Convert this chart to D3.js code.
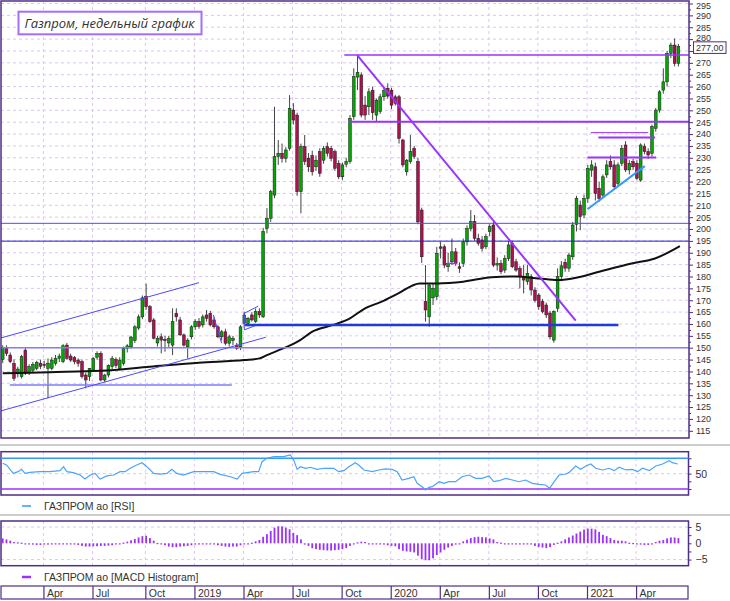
<!DOCTYPE html>
<html>
<head>
<meta charset="utf-8">
<script src="https://cdn.jsdelivr.net/npm/d3@7"></script>
<style>
body { margin: 0; background: #fff; }
svg { display: block; font-family: "Liberation Sans", Arial, sans-serif; }
</style>
</head>
<body>
<svg width="730" height="601"></svg>
<script>
// weekly bars, Jan 2018 - Jun 2021
var opens = [
145,149.7,146.9,143.4,139,137.8,149,139.5,140.5,141.3,
143.5,143,141.3,141.3,143.4,145.5,144.1,151.1,146.5,145.8,
144.8,144.1,138.5,137.8,140.6,146,147.6,136.4,138.5,142,
145,141.3,143.4,149.7,150.4,153,158.3,163,171.5,167.3,
161.7,152,154.6,153.5,152,151.1,164.5,161.7,155.4,150.4,
154.6,158.8,161,159.6,163.8,164.5,161.7,158.8,154.6,156.7,
151.9,153,151.1,150.4,160.3,160.3,163.8,161,165.2,163,
200.3,204.5,214.3,230.5,231.9,229.8,234,250.1,248,215.7,
234.7,229.8,231,226.2,232.6,229,234.7,234,232.6,227.7,
222,227.3,228.4,247.3,264,264.9,252.2,251.5,258.5,248,
249.4,255.7,259.3,258.5,255.7,255.7,237.5,224.1,228.4,234,
228.4,208,169.4,163,171,171.5,192.5,192.5,184.1,186.2,
190.4,184.1,185.5,194.6,200.3,203.1,196.1,195.4,192.5,198.9,
201.7,184.8,185.5,182.7,187.6,194,186.2,183.4,179.9,177.8,
179.9,174.3,172.2,169.4,168,164.6,153.2,166.6,180,186,
183.5,188.3,202,210.1,205.9,212.9,224.8,226.2,217.1,214.3,
222.8,228.4,227,219.2,227.7,235.4,224.9,228.4,227.7,220.6,
234.7,232.6,231.9,242.4,250.1,258.5,262,274,277.5,269.8];

var highs = [
151,151,148,145,142,147,150,143,144,144.5,
145,144.5,145.5,146,147,147.5,151.5,152,147.5,146.5,
145.5,145,139.5,141.5,146,148.5,148.5,139,143,146.5,
146,146,150.5,151.5,155,159.5,164,172,177,168,
162.5,155,156,155,155,166.6,166.6,163,156,154,
159.5,162,162.5,164,165.9,165.5,163,159.5,157.5,158,
155.5,155,152,159.5,165.2,163,165,166.5,166.6,200.5,
208.8,216.5,251.5,237.5,236,234.5,256.4,253,249,236,
239.6,232,233,231,234,235,236.5,235,233.5,229,
228,230,248,267.7,273.3,266,256,259.3,260,255,
257,259.5,261.4,259.5,256.5,256.5,238,229.5,239.6,235,
230,209,184.8,177,177,192.5,194.6,193.5,190,196,
192,186,196,201.5,208,205.9,198,197,198,202,
203,188,187,189,195,195,187.5,184.5,184.8,185,
181,175.5,173,170.5,169,165.5,165.8,183.4,186.5,187.5,
190,203,214,212,214.5,227,229,228,220,223,
229,231,229,228,235.4,237,229,229.5,229,236.1,
236,234,244,251,258.5,267.7,275,278.5,280.3,278];

var lows = [
143.5,146.5,143.5,136,137.5,137,138.5,138.5,139.5,140.5,
141,141.5,128.7,140.5,142.5,144,143.5,145,144,143,
142,137,132.9,136,140,145,135.8,135.5,137.5,141,
141.5,140.5,142.5,148,149.5,152,157.5,162,166,160.5,
153.5,150.5,147.6,148.3,150,146.9,161,155,150.5,145.5,
153.5,157.5,158,158.5,161,159,158,154,153,151,
150.5,151,149,149,159.5,159,161,160.5,162.5,162.5,
198.2,203,213,227,228,228,233,244,214,206.6,
227,224,222.5,224.5,222,227.5,230.5,228.5,224.5,221,
220.5,226,227.5,246,258.5,247,246,248,246,245.5,
248.5,254,255,250.5,252,236,226,222.5,227.5,229.5,
202,185.7,161,158.8,168,170,187.6,183.5,182,185,
184.5,181.5,184,193,199,195,193,190.5,191.5,197,
184,182.5,181,181.5,186.5,183.5,182,175,172.9,176.5,
172,169,166,164.5,162.5,153.5,152.1,165,178,182,
182,187,199,199.5,204.5,211,222,212,211.5,213,
221.5,225,216.5,218,226.5,224,223,225,220.5,219.9,
231.5,229.5,230.5,241,249,257,260,272,268.5,268.5];

var closes = [
150,147.6,144.1,137.1,141,146.2,139.2,142,143,143.8,
142.2,142.5,143.5,144.8,145.5,146.5,150.8,145.5,144.8,144.1,
143.4,137.8,136.4,141.3,145.5,147.6,136.4,138.5,142.5,145.5,
142.5,144.8,149.7,150.8,154.5,158.8,163,171,167.3,161,
154,154,153.2,153,154,161,163,155.4,151.1,153.2,
158.8,161,159,163,162.4,159.6,158.8,154.6,156.7,151.9,
154.6,154,149.7,158.8,163.8,162.4,161.7,165.2,163.8,199,
204.5,215.7,230.5,231.9,229.8,233.3,250.8,245.9,215.7,234.7,
228.4,226.2,224.1,229,223.5,234,231.9,229.8,225.6,222,
227,228.4,246.6,264.2,266,248,248,257.8,249,254.3,
255.7,258.3,256,252.2,253,238.2,227,229,232.6,230.5,
203,188.3,165.9,176.4,175,189.8,191.9,184.8,185.5,190.4,
185.5,183.4,194.6,200.3,203.1,196.1,194,191.9,196.8,201,
184.8,185.5,182,187.6,193.3,184.1,182.7,179.9,178.5,181.3,
174.3,170,167.3,165.2,163.8,154.6,165.2,180,184.5,183.5,
189,201.7,212.9,205.2,212.9,225.6,227,215,212.9,222,
227,226.2,217.8,227,234,224.9,227.7,226.2,221.4,235.4,
232.6,231.2,243.1,250.1,257.8,262,274,277.5,269.8,277];

// moving average at these bars
var maWeek = [0,12.5,26,39,52,64,68,70,74.3,78.8,81.9,87.6,92,96,100.4,104.8,110.5,115,122,129.5,136,142,147,152.5,158,166.6,172.8,179.4];
var maValue = [139.2,139.7,140.3,142,143.7,144.8,145.5,146.9,149.7,153.2,156.7,159.6,162.4,166.6,169.4,172.9,177.1,177.1,177.8,179.7,180,179.2,178.5,179.7,182,185.5,187.6,192.8];

var rsiWeek = [0,1,2.8,4.1,5,5.9,7.2,9.9,12.5,15.2,16.1,17,18.7,20.5,21.8,23.2,24.5,25.8,27.6,29.4,
31.1,32.4,33.8,35.5,36.9,38.2,40,41.7,43.5,44.8,46.1,47.9,49.2,50.6,52.3,54.1,55.9,57.6,60.3,62.1,
63.4,64.7,66.5,67.8,68.7,70,71.8,74.4,76.2,77.1,78,78.9,80.2,81.5,83.3,85.1,87.7,89,90.4,91.7,
93.4,94.3,95.7,97.9,99.6,101.4,103.2,104.5,105.8,107.6,108.9,109.8,111.1,112,112.9,113.8,115.6,116.9,118.2,120,
121.7,123.5,125.3,127,128.8,130.1,131.5,133.2,135,136.8,138.5,140.3,142.1,143.8,144.9,146.1,147.4,149.2,150,151.8,
153.1,154.5,155.8,157.1,158.9,160.6,162,163.3,165.1,166.8,168.2,169.5,171.3,173,174.8,176.6,177.4,178.8];
var rsiValue = [63.5,61.3,50.4,52.6,55.6,50.4,51.7,52.6,52.6,53.9,59.1,52.6,51.3,48.2,43,48.2,50.4,43,47,48.2,
52.6,52.6,57,61.3,64.3,59.1,50.4,49.5,50.4,55.6,50.4,48.2,50.4,52.6,52.6,52.6,52.6,49.1,46,43,
50.4,51.3,52.6,52.6,65.6,70,72.1,72.1,74.3,67.8,55.6,59.1,57,58.3,55.6,57,57,52.6,53.9,59.1,
64.3,61.3,54.8,52.6,54.8,56.1,55.6,52.6,41.7,43.9,46,37.4,33,28.7,32.2,33,39.5,37.4,39.5,39.5,
46,48.2,43.9,43.9,47,39.5,40.8,43.9,41.7,39.5,41.7,37.4,36.1,35.2,30.9,39.5,48.2,49.5,51.3,60,
55.6,60,62.6,57,54.8,57,53.9,58.3,54.8,55.6,52.6,57,53.9,60,62.6,66.9,64.3,62.6];
var rsiLevels = [70, 30];

var macdHist = [
1.5,1.2,0.8,0.4,0.3,0.2,-0.2,-0.3,-0.4,-0.5,
-0.5,-0.4,-0.4,-0.3,-0.2,-0.2,-0.1,-0.2,-0.3,-0.3,
-0.5,-0.8,-1.0,-1.0,-0.9,-0.9,-0.8,-0.8,-0.7,-0.6,
-0.3,-0.1,0.2,0.5,0.9,1.3,1.8,2.2,2.3,1.6,
0.8,0.1,-0.2,-0.6,-1.0,-1.2,-1.2,-1.0,-0.9,-0.8,
-0.6,-0.4,-0.3,-0.2,-0.2,-0.3,-0.3,-0.6,-0.8,-1.0,
-1.1,-1.0,-1.0,-0.6,-0.3,0.0,0.2,0.6,1.0,2.0,
2.8,3.8,4.8,5.2,5.2,4.8,4.3,3.2,2.5,1.2,
-0.4,-0.8,-1.5,-1.8,-2.0,-2.1,-2.2,-2.2,-2.1,-2.0,
-1.8,-1.5,-0.8,-0.3,0.3,0.5,0.4,-0.1,-0.2,-0.2,
-0.1,-0.4,-0.6,-0.8,-0.9,-1.8,-2.3,-2.5,-2.6,-2.8,
-3.8,-4.8,-5.2,-5.2,-4.6,-3.6,-2.8,-2.0,-1.3,-0.8,
-0.4,-0.1,0.6,1.1,1.6,1.9,2.0,1.9,1.8,1.5,
1.2,0.4,0.2,-0.1,-0.2,-0.2,-0.3,-0.2,-0.2,-0.3,
-0.3,-0.8,-1.1,-1.3,-1.5,-1.2,-0.5,0.2,0.6,1.2,
1.8,2.4,3.0,3.6,4.2,4.5,4.5,4.3,3.5,2.6,
2.2,1.6,1.0,0.8,0.8,0.6,0.2,0.1,-0.1,-0.4,
-0.5,-0.5,-0.3,0.4,0.8,1.0,1.5,1.8,1.8,1.6];

var quarterWeek = [11,24,38,51,64,77,90,103,116,129,142,155,168];
var quarterLabels = ["Apr","Jul","Oct","2019","Apr","Jul","Oct","2020","Apr","Jul","Oct","2021","Apr"];

// hand drawn lines: kind, bar1, price1, bar2, price2
var trendLines = [
    ["lightBlue", -1, 150, 183, 150],
    ["blue", -1, 202.4, 183, 202.4],
    ["darkBlue", -1, 194.9, 183, 194.9],
    ["lightBlue", 1.9, 134.3, 60.7, 134.3],
    ["blue", -0.7, 154, 52, 177.4],
    ["blue", -0.7, 123.3, 69.7, 154.4],
    ["blue", 55.8, 163.8, 58, 151.9],
    ["blue", 64, 164.5, 67.7, 167.5],
    ["blue", 64, 157.5, 67.7, 159.8],
    ["blue", 64, 157.5, 64, 164.5],
    ["thickBlue", 64.2, 159.6, 163.1, 159.6],
    ["violet", 90.5, 273.3, 183, 273.3],
    ["violetThick", 92, 245.2, 183, 245.2],
    ["violetThick", 93.9, 273.3, 151.8, 161.4],
    ["violet", 117.7, 185.5, 120.4, 185.5],
    ["violetThin", 155.8, 240.6, 171, 240.6],
    ["violetThick", 157.8, 238.5, 172.8, 238.5],
    ["violetThick", 154.9, 230.1, 173.1, 230.1],
    ["sky", 154.9, 208.3, 170.1, 226.5]
];

var lineStyle = {
    lightBlue: ["#7d7dff", 1.5],
    blue: ["#4a4aff", 1],
    darkBlue: ["#1c1cd8", 1],
    thickBlue: ["#1f3be0", 2.5],
    violet: ["#9933ff", 1.5],
    violetThin: ["#9933ff", 1],
    violetThick: ["#9933ff", 2],
    sky: ["#3399ff", 2]
};

var frameColor = "#4e2f86";
var gridColor = "#dcc6f5";
var textColor = "#333";
var upColor = "#00a800";
var downColor = "#b0104e";

var width = 730, height = 601;

var x = d3.scaleLinear().domain([0, 179]).range([2.7, 678.4]);
var y = d3.scaleLinear().domain([115, 295]).range([430.8, 3.5]);
var rsiY = d3.scaleLinear().domain([30, 70]).range([489, 458.3]);
var macdY = d3.scaleLinear().domain([-5, 5]).range([559.6, 527]);

var panels = [
    {top: 1, bottom: 438},
    {top: 451.7, bottom: 495},
    {top: 521, bottom: 565.7}
];

var svg = d3.select("svg");

svg.append("rect").attr("width", width).attr("height", height).attr("fill", "#fff");

svg.append("defs").append("clipPath").attr("id", "mainClip")
    .append("rect").attr("x", 1).attr("y", 1).attr("width", 688).attr("height", 437);

// gray separators
svg.selectAll(".sep")
    .data([445, 515])
    .enter().append("line")
        .attr("class", "sep")
        .attr("x1", 0).attr("x2", width)
        .attr("y1", function(d){ return d }).attr("y2", function(d){ return d })
        .attr("stroke", "#bdbdbd").attr("stroke-width", 1.5);

// vertical grid in every panel
panels.forEach(function(p){
    svg.append("g").selectAll("line")
        .data(quarterWeek)
        .enter().append("line")
            .attr("x1", function(d){ return x(d) - 0.8 })
            .attr("x2", function(d){ return x(d) - 0.8 })
            .attr("y1", p.top).attr("y2", p.bottom)
            .attr("stroke", gridColor).attr("stroke-dasharray", "3,3");
});

// horizontal grid, main panel
svg.append("g").selectAll("line")
    .data(d3.range(115, 296, 5))
    .enter().append("line")
        .attr("x1", 1).attr("x2", 689)
        .attr("y1", function(d){ return y(d) }).attr("y2", function(d){ return y(d) })
        .attr("stroke", gridColor).attr("stroke-dasharray", "3,3");

svg.append("g").selectAll("line")
    .data([50])
    .enter().append("line")
        .attr("x1", 1).attr("x2", 688.5)
        .attr("y1", function(d){ return rsiY(d) }).attr("y2", function(d){ return rsiY(d) })
        .attr("stroke", gridColor).attr("stroke-dasharray", "3,3");

svg.append("g").selectAll("line")
    .data([-5, 5])
    .enter().append("line")
        .attr("x1", 1).attr("x2", 688.5)
        .attr("y1", function(d){ return macdY(d) }).attr("y2", function(d){ return macdY(d) })
        .attr("stroke", gridColor).attr("stroke-dasharray", "3,3");

// candles
var candles = opens.map(function(o, i){
    return {i: i, o: o, h: highs[i], l: lows[i], c: closes[i]};
});

var plot = svg.append("g").attr("clip-path", "url(#mainClip)");

var candleG = plot.append("g").attr("class", "candles")
    .selectAll("g")
    .data(candles)
    .enter().append("g");

candleG.append("line")
    .attr("x1", function(d){ return x(d.i) })
    .attr("x2", function(d){ return x(d.i) })
    .attr("y1", function(d){ return y(d.h) })
    .attr("y2", function(d){ return y(d.l) })
    .attr("stroke", "#444").attr("stroke-width", 1);

candleG.append("rect")
    .attr("x", function(d){ return x(d.i) - 1.4 })
    .attr("width", 2.8)
    .attr("y", function(d){ return y(Math.max(d.o, d.c)) })
    .attr("height", function(d){ return Math.max(1, Math.abs(y(d.o) - y(d.c))) })
    .attr("fill", function(d){ return d.c >= d.o ? upColor : downColor })
    .attr("stroke", "#1a1a1a").attr("stroke-width", 0.5);

// moving average
plot.append("path")
    .datum(d3.zip(maWeek, maValue))
    .attr("fill", "none")
    .attr("stroke", "#111")
    .attr("stroke-width", 2)
    .attr("d", d3.line()
        .x(function(d){ return x(d[0]) })
        .y(function(d){ return y(d[1]) })
        .curve(d3.curveMonotoneX));

// drawings
plot.append("g").selectAll("line")
    .data(trendLines)
    .enter().append("line")
        .attr("x1", function(d){ return x(d[1]) })
        .attr("y1", function(d){ return y(d[2]) })
        .attr("x2", function(d){ return x(d[3]) })
        .attr("y2", function(d){ return y(d[4]) })
        .attr("stroke", function(d){ return lineStyle[d[0]][0] })
        .attr("stroke-width", function(d){ return lineStyle[d[0]][1] });

// panel frames
panels.forEach(function(p, k){
    svg.append("rect")
        .attr("x", 1).attr("y", p.top)
        .attr("width", k == 0 ? 688 : 687.5)
        .attr("height", p.bottom - p.top)
        .attr("fill", "none")
        .attr("stroke", frameColor).attr("stroke-width", 1.5);
});

var lastPrice = closes[closes.length - 1];

// price axis
var priceAxis = svg.append("g")
    .attr("transform", "translate(689,0)")
    .call(d3.axisRight(y).tickValues(d3.range(115, 296, 5)).tickSize(4).tickPadding(3));
priceAxis.select(".domain").remove();
// the label hidden under the price tag
priceAxis.selectAll(".tick text")
    .filter(function(d){ return Math.abs(y(d) - y(lastPrice)) < 6 })
    .remove();

var minorAxis = svg.append("g")
    .attr("transform", "translate(689,0)")
    .call(d3.axisRight(y).tickValues(d3.range(117.5, 295, 5)).tickSize(2).tickFormat(""));
minorAxis.select(".domain").remove();

var rsiAxis = svg.append("g")
    .attr("transform", "translate(688.5,0)")
    .call(d3.axisRight(rsiY).tickValues([30, 40, 50, 60, 70]).tickSize(3).tickPadding(4)
        .tickFormat(function(d){ return d == 50 ? "50" : "" }));
rsiAxis.select(".domain").remove();

var macdAxis = svg.append("g")
    .attr("transform", "translate(688.5,0)")
    .call(d3.axisRight(macdY).tickValues([-5, -2.5, 0, 2.5, 5]).tickSize(3).tickPadding(4)
        .tickFormat(function(d){ return d % 5 == 0 ? d3.format("d")(d) : "" }));
macdAxis.select(".domain").remove();

[priceAxis, minorAxis, rsiAxis, macdAxis].forEach(function(a){
    a.selectAll(".tick line").attr("stroke", frameColor);
    a.selectAll(".tick text")
        .attr("fill", textColor)
        .style("font-size", a === priceAxis ? "9px" : "10.5px")
        .style("font-family", "Liberation Sans, Arial, sans-serif");
});

// keep the top labels inside the page and clear of the price tag
var labelNudge = {295: 2, 290: 0.5, 280: -1.3};
priceAxis.selectAll(".tick text")
    .filter(function(d){ return labelNudge[d] !== undefined })
    .attr("y", function(d){ return labelNudge[d] });

// last price tag
var tag = svg.append("g").attr("transform", "translate(693.5," + y(lastPrice) + ")");
tag.append("rect")
    .attr("x", 0).attr("y", -4.4)
    .attr("width", 32.5).attr("height", 11.6)
    .attr("fill", "#fff")
    .attr("stroke", frameColor).attr("stroke-width", 1);
tag.append("text")
    .attr("x", 16.25).attr("y", 1.4).attr("dy", "0.32em")
    .attr("text-anchor", "middle")
    .attr("fill", textColor)
    .style("font-size", "9px")
    .text(d3.format(".2f")(lastPrice).replace(".", ","));

// RSI
svg.append("g").selectAll("line")
    .data(rsiLevels)
    .enter().append("line")
        .attr("x1", 1).attr("x2", 688.5)
        .attr("y1", function(d){ return rsiY(d) }).attr("y2", function(d){ return rsiY(d) })
        .attr("stroke", function(d, i){ return i == 0 ? "#3399ff" : "#9933ff" })
        .attr("stroke-width", 1.5);

svg.append("path")
    .datum(d3.zip(rsiWeek, rsiValue))
    .attr("fill", "none")
    .attr("stroke", "#4aa3ff")
    .attr("stroke-width", 1.2)
    .attr("d", d3.line()
        .x(function(d){ return x(d[0]) })
        .y(function(d){ return rsiY(d[1]) }));

// MACD histogram
svg.append("g").selectAll("rect")
    .data(macdHist)
    .enter().append("rect")
        .attr("x", function(d, i){ return x(i) - 0.9 })
        .attr("width", 1.8)
        .attr("y", function(d){ return Math.min(macdY(d), macdY(0)) })
        .attr("height", function(d){ return Math.max(1.2, Math.abs(macdY(d) - macdY(0))) })
        .attr("fill", "#9b30ff");

// legends
var legends = [
    {y: 506, color: "#3399ff", w: 1.5, text: "ГАЗПРОМ ао [RSI]"},
    {y: 577, color: "#9b30ff", w: 2.5, text: "ГАЗПРОМ ао [MACD Histogram]"}
];
var leg = svg.selectAll(".legend")
    .data(legends)
    .enter().append("g")
        .attr("class", "legend")
        .attr("transform", function(d){ return "translate(0," + d.y + ")" });
leg.append("line")
    .attr("x1", 22).attr("x2", 31)
    .attr("stroke", function(d){ return d.color })
    .attr("stroke-width", function(d){ return d.w });
leg.append("text")
    .attr("x", 44).attr("dy", "0.35em")
    .attr("fill", textColor)
    .style("font-size", "10.5px")
    .text(function(d){ return d.text });

// date axis
svg.append("rect")
    .attr("x", 1).attr("y", 586)
    .attr("width", 687).attr("height", 13)
    .attr("fill", "none")
    .attr("stroke", frameColor).attr("stroke-width", 1.2);

var dateAxis = svg.append("g")
    .attr("transform", "translate(-0.8,586)")
    .call(d3.axisBottom(x)
        .tickValues(quarterWeek)
        .tickFormat(function(d, i){ return quarterLabels[i] })
        .tickSize(13));
dateAxis.select(".domain").remove();
dateAxis.selectAll(".tick line").attr("stroke", frameColor).attr("stroke-width", 1.2);
dateAxis.selectAll(".tick text")
    .attr("x", 3).attr("y", 7).attr("dy", "0.35em")
    .attr("text-anchor", "start")
    .attr("fill", textColor)
    .style("font-size", "10.5px")
    .style("font-family", "Liberation Sans, Arial, sans-serif");

// title box
var title = svg.append("g").attr("transform", "translate(18.5,11.7)");
title.append("rect")
    .attr("width", 183).attr("height", 22.6)
    .attr("fill", "#fff")
    .attr("stroke", "#a66bff").attr("stroke-width", 2);
title.append("text")
    .attr("x", 6).attr("y", 11.3).attr("dy", "0.35em")
    .attr("fill", textColor)
    .style("font-family", "Open Sans, sans-serif")
    .style("font-style", "italic")
    .style("font-size", "13px")
    .text("Газпром, недельный график");
</script>
</body>
</html>
